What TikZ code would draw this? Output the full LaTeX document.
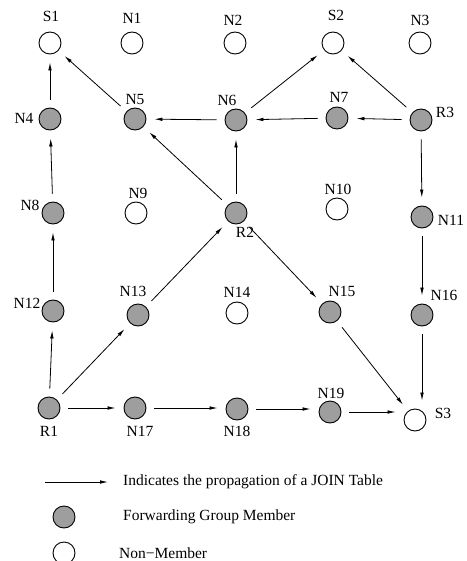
\documentclass[tikz,border=0pt]{standalone}
\usepackage{fontspec}
\setmainfont{Liberation Serif}
\usetikzlibrary{arrows.meta}
\definecolor{fgcol}{gray}{0.62}
\tikzset{
  mem/.style={circle,draw=black,line width=0.9pt,fill=fgcol,minimum size=22pt,inner sep=0pt},
  non/.style={circle,draw=black,line width=0.9pt,fill=white,minimum size=22pt,inner sep=0pt},
  lab/.style={inner sep=0pt,font=\fontsize{15.5}{18}\selectfont},
  legtxt/.style={inner sep=0pt,anchor=west,font=\fontsize{15.5}{18}\selectfont},
  joinarrow/.style={line width=0.8pt,-{Latex[length=8pt,width=3.6pt]},shorten <=8pt,shorten >=8pt}
}
\begin{document}
\begin{tikzpicture}[x=1pt,y=-1pt]
\useasboundingbox (0,0) rectangle (466,561);
% row 1
\node[non] (S1) at (50,43) {};
\node[non] (N1) at (132,43) {};
\node[non] (N2) at (235,43) {};
\node[non] (S2) at (333,43) {};
\node[non] (N3) at (420,43) {};
% row 2
\node[mem] (N4) at (50,119) {};
\node[mem] (N5) at (135,119) {};
\node[mem] (N6) at (236,120) {};
\node[mem] (N7) at (337,118) {};
\node[mem] (R3) at (421,120) {};
% row 3
\node[mem] (N8) at (53,213) {};
\node[non] (N9) at (136,213) {};
\node[mem] (R2) at (236,213) {};
\node[non] (N10) at (337,209) {};
\node[mem] (N11) at (422,217) {};
% row 4
\node[mem] (N12) at (53,311) {};
\node[mem] (N13) at (138,315) {};
\node[non] (N14) at (237,313) {};
\node[mem] (N15) at (330,312) {};
\node[mem] (N16) at (422,315) {};
% row 5
\node[mem] (R1) at (49,408) {};
\node[mem] (N17) at (135,408) {};
\node[mem] (N18) at (237,409) {};
\node[mem] (N19) at (330,412) {};
\node[non] (S3) at (415,420) {};
% labels
\node[lab] (lS1) at (51,16) {S1};
\node[lab] (lN1) at (132,18) {N1};
\node[lab] (lN2) at (233,20) {N2};
\node[lab] (lS2) at (336,15) {S2};
\node[lab] (lN3) at (420,20) {N3};
\node[lab] (lN4) at (24,118) {N4};
\node[lab] (lN5) at (135,100) {N5};
\node[lab] (lN6) at (227,100) {N6};
\node[lab] (lN7) at (339,97) {N7};
\node[lab] (lR3) at (445,112) {R3};
\node[lab] (lN8) at (30,205) {N8};
\node[lab] (lN9) at (138,193) {N9};
\node[lab] (lR2) at (245,232) {R2};
\node[lab] (lN10) at (338,189) {N10};
\node[lab] (lN11) at (451,220) {N11};
\node[lab] (lN12) at (27,303) {N12};
\node[lab] (lN13) at (133,291) {N13};
\node[lab] (lN14) at (237,292) {N14};
\node[lab] (lN15) at (342,291) {N15};
\node[lab] (lN16) at (444,295) {N16};
\node[lab] (lR1) at (49,431) {R1};
\node[lab] (lN17) at (140,431) {N17};
\node[lab] (lN18) at (237,431) {N18};
\node[lab] (lN19) at (331,393) {N19};
\node[lab] (lS3) at (443,413) {S3};
% edges
\draw[joinarrow] (N4) -- (S1);
\draw[joinarrow] (N5) -- (S1);
\draw[joinarrow] (N8) -- (N4);
\draw[joinarrow] (N6) -- (N5);
\draw[joinarrow] (R2) -- (N5);
\draw[joinarrow] (R2) -- (N6);
\draw[joinarrow] (N6) -- (S2);
\draw[joinarrow] (N7) -- (N6);
\draw[joinarrow] (R3) -- (N7);
\draw[joinarrow] (R3) -- (S2);
\draw[joinarrow] (R3) -- (N11);
\draw[joinarrow] (N11) -- (N16);
\draw[joinarrow] (N16) -- (N16 |- S3.north);
\draw[joinarrow] (N15) -- (S3);
\draw[joinarrow] (R2) -- (N15);
\draw[joinarrow] (N13) -- (R2);
\draw[joinarrow] (R1) -- (N13);
\draw[joinarrow] (R1) -- (N12);
\draw[joinarrow] (N12) -- (N8);
\draw[joinarrow] (R1) -- (N17);
\draw[joinarrow] (N17) -- (N17 -| N18.west);
\draw[joinarrow] (N18) -- (N18 -| N19.west);
\draw[joinarrow] (N19) -- (S3.west |- N19);
% legend
\coordinate (legA) at (45,482);
\coordinate (legB) at (108,482);
\draw[line width=0.8pt,-{Latex[length=8pt,width=3.6pt]}] (legA) -- (legB);
\node[legtxt] (legT1) at (123,482) {Indicates the propagation of a JOIN Table};
\node[mem] (legM) at (64,517) {};
\node[legtxt] (legT2) at (123,517) {Forwarding Group Member};
\node[non] (legN) at (64,553) {};
\node[legtxt] (legT3) at (119,553) {Non−Member};
\end{tikzpicture}
\end{document}
